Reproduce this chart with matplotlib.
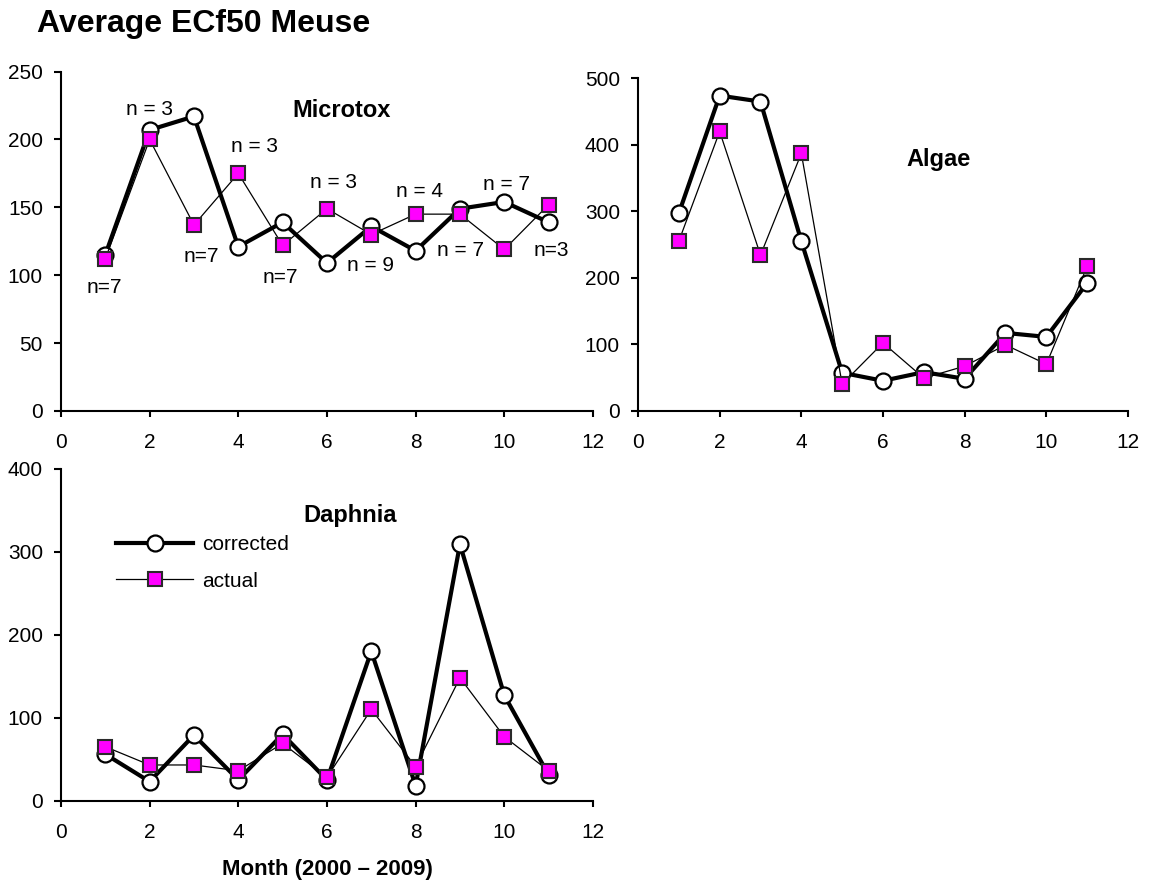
import matplotlib
matplotlib.use('Agg')
import matplotlib.pyplot as plt

plt.rcParams['font.family'] = ['Liberation Sans', 'DejaVu Sans']

months = list(range(1, 12))

microtox_corrected = [115, 207, 217, 121, 139, 109, 136, 118, 149, 154, 139]
microtox_actual = [112, 200, 137, 175, 122, 149, 130, 145, 145, 119, 152]

algae_corrected = [297, 474, 465, 255, 57, 45, 58, 48, 117, 111, 192]
algae_actual = [255, 420, 234, 387, 40, 102, 49, 67, 99, 70, 217]

daphnia_corrected = [56, 23, 79, 25, 80, 25, 180, 18, 309, 127, 31]
daphnia_actual = [65, 43, 43, 36, 69, 28, 110, 41, 148, 77, 36]

# sample counts written next to the Microtox points
n_labels = ['n = 3', 'n = 3', 'n = 3', 'n = 4', 'n = 7',
            'n=7', 'n=7', 'n=7', 'n = 9', 'n = 7', 'n=3']
n_x = [2.0, 4.37, 6.14, 8.09, 10.05, 0.97, 3.17, 4.94, 6.98, 9.02, 11.06]
n_y = [222, 195, 168, 162, 167, 91, 114, 98, 107, 118, 118]

fig = plt.figure(figsize=(11.7, 8.93), dpi=100)
ax1 = fig.add_axes([0.0521, 0.5398, 0.4547, 0.380])
ax2 = fig.add_axes([0.5453, 0.5401, 0.4188, 0.3722])
ax3 = fig.add_axes([0.0521, 0.1034, 0.4547, 0.3718])


def draw(ax, corrected, actual, ymax, ystep, name, nx, ny):
    ax.plot(months, corrected, color='black', lw=3.0, marker='o', ms=11.5,
            mfc='white', mec='black', mew=1.6, label='corrected', zorder=3)
    ax.plot(months, actual, color='black', lw=0.9, marker='s', ms=10.5,
            mfc='#ff00ff', mec='#2a2a2a', mew=1.5, label='actual', zorder=4)
    ax.set_xlim(0, 12)
    ax.set_ylim(0, ymax)
    ax.set_xticks(range(0, 13, 2))
    ax.set_yticks(range(0, ymax + 1, ystep))
    for s in ['top', 'right']:
        ax.spines[s].set_visible(False)
    for s in ['left', 'bottom']:
        ax.spines[s].set_linewidth(1.5)
    ax.tick_params(direction='out', width=1.5, labelsize=15)
    ax.tick_params(axis='x', length=4, pad=12)
    ax.tick_params(axis='y', length=5, pad=8)
    ax.text(nx, ny, name, fontsize=17, fontweight='bold', ha='center', va='center')


draw(ax1, microtox_corrected, microtox_actual, 250, 50, 'Microtox', 6.33, 221)
draw(ax2, algae_corrected, algae_actual, 500, 100, 'Algae', 7.35, 378)
draw(ax3, daphnia_corrected, daphnia_actual, 400, 100, 'Daphnia', 6.52, 343)

for lab, x, y in zip(n_labels, n_x, n_y):
    ax1.text(x, y, lab, fontsize=15, ha='center', va='center')

ax3.legend(loc='upper left', bbox_to_anchor=(0.104, 0.80), frameon=False,
           fontsize=15, handlelength=3.7, handletextpad=0.4,
           labelspacing=0.85, borderpad=0, borderaxespad=0)
ax3.set_xlabel('Month (2000 \u2013 2009)', fontsize=16, fontweight='bold', labelpad=12)

fig.text(0.032, 0.99, 'Average ECf50 Meuse', fontsize=23, fontweight='bold',
         ha='left', va='top')

fig.savefig('out.png', dpi=100)
